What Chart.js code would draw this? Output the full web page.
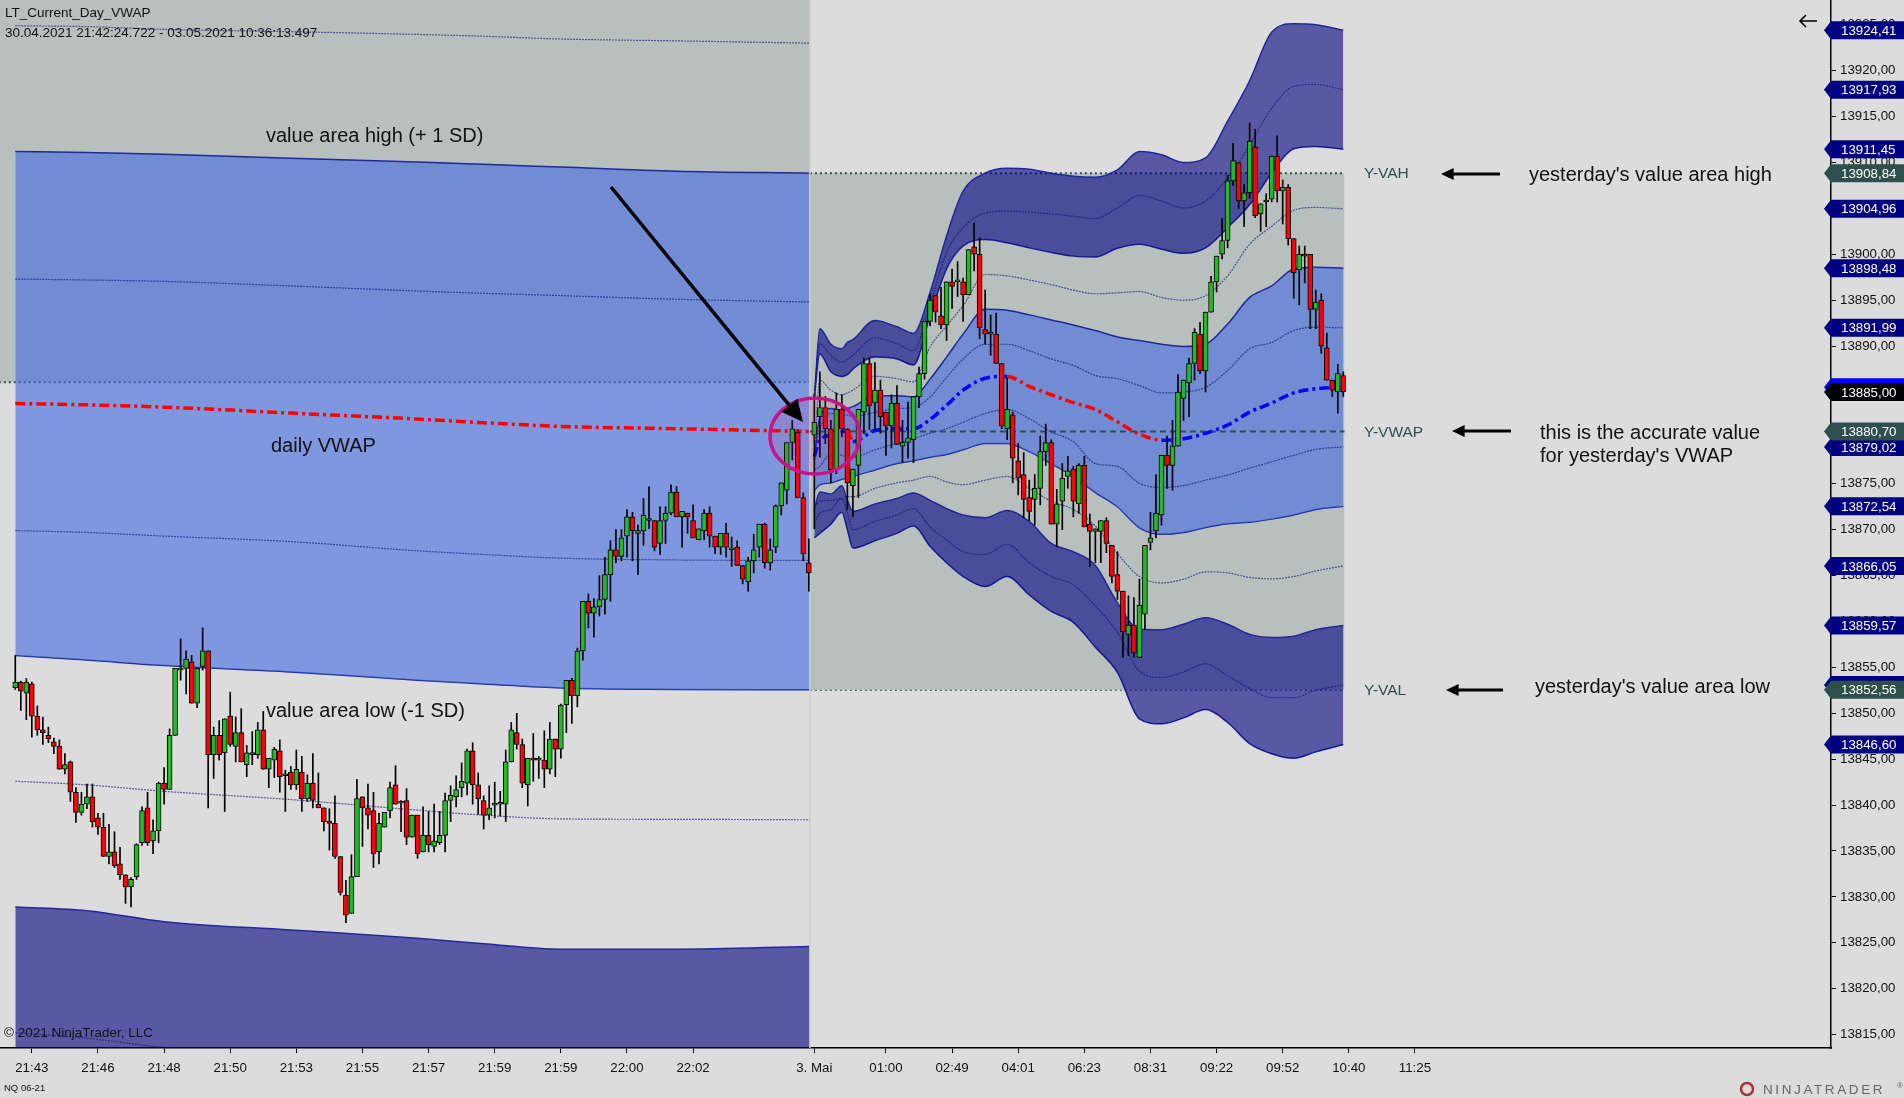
<!DOCTYPE html>
<html>
<head>
<meta charset="utf-8">
<title>LT_Current_Day_VWAP</title>
<script src="https://cdn.jsdelivr.net/npm/chart.js@4"></script>
<style>
	html, body { margin: 0; padding: 0; background: #dcdcdc; }
	canvas { display: block; }
</style>
</head>
<body>
<canvas id="chart" width="1904" height="1098"></canvas>
<script>
// candles, one entry per bar
const opens = [
13852.8,13853.4,13852.2,13853.2,13849.7,13848.2,13847.6,13846.9,13846.4,13843.9,
13844.7,13841.4,13839.2,13840.1,13840.9,13838.6,13837.6,13834.4,13834.9,13833.6,
13832.4,13831.1,13832.2,13835.9,13839.7,13836.1,13837.2,13842.4,13841.7,13847.6,
13854.7,13854.9,13855.6,13851.1,13855.1,13856.8,13845.5,13847.6,13845.7,13849.7,
13846.4,13847.9,13844.4,13845.7,13845.5,13848.2,13843.9,13844.9,13845.9,13843.2,
13843.6,13842.2,13843.6,13840.7,13842.4,13840.1,13839.7,13838.2,13838.0,13834.4,
13830.2,13828.2,13832.2,13840.9,13839.7,13839.4,13834.9,13837.6,13839.4,13842.2,
13840.2,13840.5,13836.5,13838.9,13834.9,13836.7,13835.5,13835.9,13836.7,13840.5,
13840.9,13841.9,13842.4,13845.9,13842.2,13840.5,13838.9,13840.0,13840.1,13840.1,
13844.7,13847.9,13846.6,13842.2,13845.1,13844.9,13844.9,13843.9,13847.2,13846.1,
13850.9,13853.6,13851.9,13856.8,13862.2,13860.9,13861.6,13862.4,13865.1,13867.8,
13867.1,13869.3,13871.4,13869.6,13869.9,13871.0,13871.0,13868.5,13871.0,13871.8,
13874.1,13871.4,13871.8,13871.0,13868.9,13869.9,13871.8,13869.3,13868.1,13869.6,
13867.8,13868.1,13866.1,13864.3,13866.6,13868.1,13870.6,13866.4,13868.1,13872.6,
13874.3,13879.5,13880.6,13873.5,13866.4,13880.3,13882.3,13883.3,13881.0,13876.5,
13883.1,13881.0,13874.8,13877.0,13882.8,13888.1,13883.8,13885.2,13882.8,13881.3,
13883.8,13879.1,13879.5,13879.8,13884.5,13887.0,13892.7,13895.5,13893.3,13892.3,
13897.0,13897.0,13897.0,13895.6,13900.8,13900.0,13891.8,13891.3,13891.3,13888.1,
13881.0,13882.5,13877.5,13876.0,13873.5,13873.3,13874.5,13878.5,13879.5,13870.6,
13873.1,13875.8,13876.6,13872.8,13877.0,13870.6,13869.8,13869.8,13871.0,13868.3,
13865.1,13863.3,13858.6,13859.6,13856.1,13860.8,13868.6,13869.9,13871.6,13878.1,
13877.0,13879.1,13884.3,13886.0,13888.1,13891.3,13887.3,13893.7,13897.0,13900.0,
13901.5,13908.0,13910.0,13905.8,13906.7,13911.7,13904.4,13905.7,13906.0,13910.7,
13906.9,13907.3,13901.7,13898.3,13900.0,13900.0,13894.0,13895.0,13889.8,13886.3,
13885.0,13886.8];
const highs = [
13856.3,13853.5,13853.8,13853.4,13850.8,13849.6,13848.5,13847.3,13847.1,13845.6,
13844.8,13841.9,13841.4,13842.3,13842.3,13839.1,13839.1,13837.9,13837.1,13835.4,
13832.4,13832.1,13835.8,13839.8,13841.4,13838.4,13842.5,13844.1,13848.3,13854.9,
13858.1,13856.8,13856.3,13854.9,13859.3,13856.8,13848.5,13849.2,13849.4,13852.3,
13849.6,13850.5,13846.5,13848.0,13849.0,13850.2,13845.1,13846.3,13847.1,13843.8,
13844.2,13846.0,13845.3,13843.3,13845.6,13843.5,13839.7,13839.6,13841.0,13834.4,
13831.8,13834.6,13842.8,13840.9,13842.3,13841.4,13839.1,13839.2,13842.5,13844.3,
13840.5,13841.8,13838.9,13838.9,13839.8,13839.3,13840.1,13839.3,13841.3,13842.1,
13843.2,13844.6,13846.1,13846.8,13843.5,13841.0,13842.1,13842.5,13841.5,13846.0,
13849.0,13850.0,13847.2,13845.1,13847.8,13845.3,13848.1,13849.0,13847.2,13851.0,
13853.6,13853.8,13857.1,13862.2,13863.0,13862.5,13865.0,13867.0,13868.8,13870.0,
13870.0,13872.2,13871.9,13870.5,13873.4,13874.7,13871.0,13872.5,13872.5,13874.9,
13874.7,13872.0,13871.8,13872.7,13870.1,13872.2,13872.5,13869.3,13869.6,13870.7,
13869.2,13868.8,13866.1,13867.0,13869.5,13870.6,13870.7,13869.0,13872.7,13875.1,
13879.5,13881.9,13880.9,13874.0,13869.0,13884.8,13887.2,13884.5,13881.9,13884.9,
13884.7,13881.0,13876.6,13883.1,13888.7,13888.7,13888.2,13886.3,13882.8,13884.7,
13885.7,13881.9,13883.9,13884.5,13887.7,13892.7,13895.7,13895.5,13896.4,13897.0,
13898.4,13899.2,13897.4,13900.5,13903.4,13901.8,13896.1,13893.4,13893.6,13888.1,
13886.5,13882.8,13879.4,13878.4,13875.4,13876.0,13880.2,13881.5,13879.8,13874.4,
13877.2,13878.0,13876.9,13877.2,13878.0,13871.7,13870.1,13871.0,13871.3,13868.3,
13867.6,13863.3,13862.8,13862.6,13864.6,13868.3,13871.9,13876.0,13878.1,13880.2,
13881.9,13886.9,13886.3,13888.7,13891.9,13892.6,13893.7,13897.6,13899.8,13903.9,
13908.6,13912.1,13910.0,13907.6,13914.3,13913.6,13905.5,13906.6,13910.7,13912.9,
13908.1,13907.6,13901.7,13900.9,13900.9,13900.0,13896.1,13895.7,13891.4,13886.3,
13888.0,13887.2];
const lows = [
13852.6,13850.3,13849.3,13847.4,13847.6,13846.6,13846.8,13845.6,13843.9,13843.4,
13840.4,13838.1,13838.9,13839.6,13837.6,13836.8,13834.4,13833.6,13833.2,13831.9,
13829.3,13828.9,13831.9,13835.6,13835.6,13834.7,13835.9,13840.1,13841.7,13847.6,
13853.6,13852.1,13851.1,13850.6,13854.7,13839.7,13842.9,13844.9,13839.3,13846.4,
13844.7,13844.7,13843.1,13844.4,13845.1,13843.9,13841.9,13843.0,13841.4,13839.3,
13841.7,13841.7,13839.3,13840.4,13839.7,13839.7,13837.2,13835.1,13834.2,13830.2,
13827.2,13828.2,13832.2,13835.5,13837.4,13833.2,13833.6,13837.6,13838.6,13840.1,
13837.1,13835.7,13836.5,13834.2,13834.9,13834.9,13834.9,13835.7,13834.9,13838.2,
13839.8,13840.9,13841.1,13840.1,13839.0,13837.4,13838.4,13838.6,13838.8,13838.2,
13844.7,13846.1,13841.9,13839.9,13842.6,13842.9,13841.9,13843.4,13843.1,13845.1,
13847.9,13848.9,13850.7,13855.8,13859.3,13858.3,13860.6,13860.8,13862.2,13866.4,
13866.6,13867.0,13866.6,13865.1,13868.3,13870.1,13867.7,13867.3,13868.5,13871.6,
13871.4,13868.1,13869.6,13869.1,13868.9,13868.9,13868.1,13867.4,13867.3,13867.0,
13866.0,13866.1,13864.1,13863.3,13865.3,13867.0,13865.8,13865.6,13867.5,13871.6,
13872.8,13877.6,13873.5,13866.6,13863.3,13870.1,13877.9,13879.4,13875.1,13876.1,
13880.1,13872.2,13871.4,13873.5,13880.5,13880.9,13880.9,13880.5,13878.1,13878.9,
13879.3,13877.3,13877.8,13877.3,13883.3,13886.4,13892.2,13892.6,13891.9,13890.6,
13894.1,13895.4,13892.7,13895.6,13898.2,13890.8,13890.2,13889.0,13888.1,13881.0,
13879.8,13875.1,13873.8,13871.3,13871.0,13870.5,13872.7,13877.0,13870.6,13868.1,
13870.0,13874.5,13871.4,13871.8,13870.3,13866.0,13866.4,13866.4,13867.5,13864.2,
13862.4,13856.1,13856.3,13856.1,13856.1,13859.1,13867.8,13869.1,13870.5,13874.5,
13874.3,13879.1,13881.9,13882.3,13886.3,13887.0,13885.0,13893.7,13895.9,13899.5,
13900.7,13907.5,13905.0,13903.0,13906.1,13904.0,13902.5,13903.0,13905.7,13905.7,
13903.3,13901.0,13895.2,13894.5,13896.9,13891.9,13891.9,13889.2,13886.3,13884.5,
13882.7,13884.5];
const closes = [
13853.4,13852.4,13853.4,13849.7,13848.2,13847.9,13847.2,13846.4,13843.9,13844.4,
13841.4,13839.2,13840.1,13840.9,13838.2,13837.6,13834.4,13834.9,13833.4,13832.4,
13831.1,13831.9,13835.7,13839.4,13835.9,13837.2,13842.4,13841.7,13847.6,13854.9,
13854.7,13855.9,13851.1,13854.9,13856.8,13845.5,13847.6,13845.5,13849.4,13846.6,
13847.9,13844.7,13845.7,13845.5,13848.2,13843.9,13845.1,13846.1,13843.1,13843.4,
13842.2,13843.9,13840.7,13842.4,13840.5,13839.7,13838.2,13838.0,13834.4,13830.5,
13828.0,13832.2,13840.7,13839.7,13838.9,13834.7,13838.0,13839.2,13841.9,13840.1,
13840.2,13836.5,13838.9,13834.7,13836.7,13835.7,13836.1,13836.7,13840.5,13841.1,
13841.7,13842.6,13845.9,13842.2,13840.7,13838.9,13839.7,13840.0,13840.1,13844.7,
13848.2,13846.6,13842.4,13845.1,13844.9,13844.9,13843.9,13847.2,13846.1,13850.9,
13853.6,13851.9,13856.8,13862.2,13860.9,13861.6,13862.4,13865.1,13867.8,13867.1,
13869.1,13871.4,13869.9,13869.9,13871.6,13871.0,13868.1,13871.0,13871.8,13874.1,
13871.4,13872.0,13871.4,13869.1,13870.1,13871.8,13869.3,13868.1,13869.6,13868.1,
13867.8,13866.1,13864.6,13866.6,13867.8,13870.6,13866.4,13867.8,13872.6,13875.1,
13879.5,13881.0,13873.5,13867.4,13865.3,13881.7,13883.3,13881.0,13876.5,13883.1,
13881.0,13875.1,13876.6,13883.1,13888.1,13883.5,13885.2,13882.3,13881.3,13883.8,
13879.3,13879.5,13880.0,13884.5,13887.0,13892.7,13895.0,13893.7,13892.3,13897.0,
13896.5,13897.0,13895.6,13900.5,13900.0,13892.0,13891.3,13891.3,13888.1,13881.3,
13883.1,13877.8,13875.6,13873.3,13872.0,13874.5,13878.5,13879.5,13870.6,13872.8,
13875.6,13876.4,13873.1,13877.0,13870.3,13869.8,13870.1,13871.0,13868.5,13864.9,
13863.3,13858.9,13859.6,13856.6,13861.8,13868.3,13869.1,13871.8,13878.1,13877.0,
13879.1,13885.0,13886.3,13888.1,13891.5,13887.3,13893.7,13897.0,13899.8,13901.5,
13908.0,13910.2,13905.8,13906.7,13912.3,13904.2,13905.5,13905.7,13910.7,13906.9,
13907.3,13901.7,13898.0,13900.0,13899.8,13894.0,13894.8,13890.0,13886.3,13885.2,
13887.0,13885.0];

// previous session bands (30.04), read at these bars
const leftBars = [0, 13, 27, 50, 73, 85, 99, 120, 144.2];
const leftPlus15 = [13924.9,13924.8,13924.5,13924.25,13923.95,13923.75,13923.45,13923.25,13923.0];
const leftPlus1 = [13911.2,13911.1,13910.9,13910.45,13910.05,13909.8,13909.5,13909.05,13908.84];
const leftPlus05 = [13897.3,13897.2,13897.05,13896.55,13896.0,13895.75,13895.5,13895.1,13894.8];
const leftVwap = [13883.75,13883.6,13883.35,13882.7,13882.05,13881.65,13881.25,13881.0,13880.7];
const leftMinus05 = [13869.9,13869.7,13869.3,13868.7,13867.7,13867.3,13866.9,13866.7,13866.65];
const leftMinus1 = [13856.3,13855.8,13855.2,13854.5,13853.6,13853.2,13852.75,13852.6,13852.56];
const leftMinus15 = [13842.6,13842.2,13841.5,13840.6,13839.45,13838.9,13838.5,13838.45,13838.4];
const leftMinus2 = [13828.9,13828.5,13827.3,13826.4,13825.5,13824.9,13824.3,13824.3,13824.6];
const leftMinus25 = [13815.2,13814.6,13813.6,13812.6,13811.4,13810.9,13810.2,13810.1,13810.4];

// current session bands (03.05), read at these bars
const rightBars = [145,146,148,150,151,152,156,160,163,166,169,172,176,180,184,188,192,196,200,204,208,212,216,220,224,228,232,236,241];
const rightA = [13884.1,13891.9,13890.2,13889.7,13890.4,13890.7,13892.8,13892.1,13891.4,13895.85,13902,13906.87,13908.83,13909.37,13909.26,13908.83,13908.5,13908.4,13909.2,13911.2,13910.85,13910.0,13910.5,13914.5,13918.9,13924.2,13925.1,13925.0,13924.41];
const rightB = [13885.2,13890.25,13889.0,13888.25,13888.5,13889.0,13890.9,13890.25,13889.5,13894.6,13900.2,13902.9,13904.5,13904.7,13904.6,13904.4,13904.15,13903.9,13905.05,13906.4,13905.8,13905.05,13905.8,13908.3,13911.9,13915.9,13918.3,13918.5,13917.93];
const rightC = [13884.45,13889.15,13887.2,13886.7,13886.9,13887.5,13888.8,13888.6,13887.95,13893.3,13898.4,13900.9,13901.6,13901.25,13900.7,13900.2,13899.8,13899.7,13900.65,13901.1,13900.55,13900.1,13900.7,13902.9,13905.4,13908.85,13911.5,13911.75,13911.45];
const rightD = [13877.95,13886.3,13885.2,13884.7,13884.9,13885.2,13886.7,13886.45,13886.1,13889.9,13892.2,13894.4,13897.8,13897.65,13897.2,13896.7,13896.1,13895.7,13895.8,13895.95,13895.3,13895.0,13895.5,13897.65,13901.1,13903.05,13904.8,13905.1,13904.96];
const rightE = [13877.6,13882.3,13883.2,13883.0,13883.2,13883.4,13884.6,13884.6,13884.45,13886.4,13888.8,13891.3,13894.0,13893.9,13893.4,13892.85,13892.3,13891.7,13891.0,13890.6,13890.2,13889.95,13890.2,13892.4,13895.3,13896.55,13898.4,13898.6,13898.48];
const rightF = [13878.7,13881.0,13882.65,13882.5,13882.5,13882.3,13882.8,13883.2,13883.3,13884.45,13886.6,13888.6,13890.2,13890.2,13889.5,13888.6,13887.9,13886.8,13886.45,13885.7,13884.9,13885.0,13885.5,13887.35,13889.7,13890.4,13891.7,13892.05,13891.99];
const rightVwap = [13877.95,13879.75,13880.3,13880.65,13880.8,13879.6,13880.8,13881.0,13881.0,13882.0,13883.55,13885.2,13886.5,13886.7,13885.6,13884.7,13883.85,13883.1,13881.75,13880.4,13879.75,13879.9,13880.5,13881.4,13882.8,13883.8,13884.9,13885.35,13885.51];
const rightH = [13876.5,13876.9,13878.3,13878.1,13877.9,13877.9,13878.7,13879.4,13879.9,13880.5,13881.0,13881.7,13882.65,13883.1,13882.1,13880.65,13879.6,13877.2,13876.9,13875.05,13874.6,13874.8,13875.4,13875.95,13876.7,13877.4,13878.1,13878.75,13879.02];
const rightI = [13874.3,13874.9,13875.1,13875.5,13875.6,13875.8,13876.5,13877.2,13877.5,13877.9,13878.2,13878.7,13879.4,13879.4,13878.5,13877.2,13875.8,13874.05,13872.5,13870.2,13869.5,13869.7,13870.25,13870.65,13870.8,13871.15,13871.6,13872.2,13872.54];
const rightJ = [13872.5,13873.1,13873.2,13873.4,13873.6,13873.6,13874.5,13875.1,13875.4,13875.8,13875.2,13874.9,13875.4,13875.8,13874.5,13873.1,13872.2,13870.4,13867.4,13864.9,13864.2,13864.6,13865.4,13865.3,13864.8,13864.65,13864.9,13865.5,13866.05];
const rightK = [13872.2,13874.1,13873.9,13874.8,13873.2,13872.0,13872.8,13873.4,13874.0,13873.2,13872.3,13871.6,13871.3,13872.1,13870.9,13868.5,13867.6,13866.1,13862.05,13859.15,13859.1,13859.7,13860.4,13859.7,13858.6,13858.25,13858.4,13859.1,13859.57];
const rightL = [13870.7,13871.8,13872.2,13873.4,13871.8,13870.0,13870.9,13871.6,13872.3,13870.3,13868.9,13867.6,13867.3,13868.4,13866.4,13864.9,13864.0,13861.7,13858.8,13854.6,13853.9,13854.5,13855.4,13854.1,13852.7,13851.7,13851.7,13852.5,13853.08];
const rightM = [13869.1,13869.6,13870.6,13871.9,13870.0,13868.0,13868.8,13869.6,13870.4,13868.2,13866.4,13864.9,13863.8,13864.9,13862.9,13861.1,13859.9,13857.2,13854.46,13849.4,13848.85,13849.5,13850.4,13849.0,13846.7,13845.6,13845.1,13845.8,13846.6];

// yesterday's levels
const yVah = 13908.84;
const yVwap = 13880.70;
const yVal = 13852.56;
const priorVal = 13886.05;
const sessionBar = 144.2;
const lastBar = 241.2;

// x axis
const tickBars = [3,15,27,39,51,63,75,87,99,111,123,145,158,170,182,194,206,218,230,242,254];
const tickLabels = ['21:43','21:46','21:48','21:50','21:53','21:55','21:57','21:59','21:59','22:00','22:02','3. Mai','01:00','02:49','04:01','06:23','08:31','09:22','09:52','10:40','11:25'];

// price markers on the right axis
const bandTags = [13924.41,13917.93,13911.45,13904.96,13898.48,13891.99,13879.02,13872.54,13866.05,13859.57,13853.08,13846.60];
const vwapTag = 13885.51;
const levelTags = [yVah, yVwap, yVal];
const lastPrice = closes[closes.length - 1];

const yMin = 13813.54;
const yMax = 13927.7;
const font = '"Liberation Sans", Arial, sans-serif';

const GREEN = '#22BB22';
const RED = '#FF0000';
const BAND_BLUE = 'rgba(65,105,225,0.6)';
const BAND_DARK = 'rgba(0,0,128,0.6)';
const GREY = '#B8C0BE';
const EDGE = '#20289A';
const LEVEL = '#2F4F4F';

const datasets = [];

function points(bars, values){
	return bars.map((b, i) => ({x: b, y: values[i]}));
}

function addLine(bars, values, opts){
	datasets.push(Object.assign({
		type: 'line',
		data: points(bars, values),
		pointRadius: 0,
		fill: false,
		cubicInterpolationMode: 'monotone',
		borderWidth: 1.5,
		borderColor: EDGE,
		order: 40
	}, opts));
	return datasets.length - 1;
}

function dotted(bars, values){
	addLine(bars, values, {borderWidth: 1.2, borderDash: [2, 1], borderColor: 'rgba(15,15,120,0.62)', order: 35});
}

// shaded yesterday areas sit below everything
addLine([-3, sessionBar], [priorVal, priorVal], {fill: 'end', backgroundColor: GREY, borderWidth: 2, borderColor: LEVEL, borderDash: [2, 3], order: 100});
const vahIdx = datasets.length;
addLine([sessionBar, lastBar], [yVah, yVah], {fill: {target: vahIdx + 1}, backgroundColor: GREY, borderWidth: 2, borderColor: LEVEL, borderDash: [2, 3], order: 100});
addLine([sessionBar, lastBar], [yVal, yVal], {borderWidth: 2, borderColor: LEVEL, borderDash: [2, 3], order: 100});

// left session
let idx = datasets.length;
addLine(leftBars, leftPlus1, {fill: {target: idx + 1}, backgroundColor: BAND_BLUE, order: 50});
addLine(leftBars, leftMinus1, {order: 50});
addLine(leftBars, leftMinus2, {fill: 'start', backgroundColor: BAND_DARK, order: 50});
dotted(leftBars, leftPlus15);
dotted(leftBars, leftPlus05);
dotted(leftBars, leftMinus05);
dotted(leftBars, leftMinus15);
dotted(leftBars, leftMinus25);

// right session
idx = datasets.length;
addLine(rightBars, rightA, {fill: {target: idx + 1}, backgroundColor: BAND_DARK, order: 50});
addLine(rightBars, rightC, {order: 50});
addLine(rightBars, rightE, {fill: {target: idx + 3}, backgroundColor: BAND_BLUE, order: 50});
addLine(rightBars, rightI, {order: 50});
addLine(rightBars, rightK, {fill: {target: idx + 5}, backgroundColor: BAND_DARK, order: 50});
addLine(rightBars, rightM, {order: 50});
dotted(rightBars, rightB);
dotted(rightBars, rightD);
dotted(rightBars, rightF);
dotted(rightBars, rightH);
dotted(rightBars, rightJ);
dotted(rightBars, rightL);

// yesterday vwap and session break
addLine([sessionBar, lastBar], [yVwap, yVwap], {borderWidth: 2, borderColor: LEVEL, borderDash: [6, 4], order: 30});
addLine([sessionBar, sessionBar], [yMin, yMax], {borderWidth: 1.5, borderColor: '#CFCFCF', order: 30});

// vwap, red when falling and blue when rising
const vwapSegment = {borderColor: c => c.p1.parsed.y >= c.p0.parsed.y ? '#0000FF' : '#FF0000'};
addLine(leftBars, leftVwap, {borderWidth: 3.5, borderColor: '#FF0000', borderDash: [10, 4, 3, 4], segment: vwapSegment, order: 20});
addLine(rightBars, rightVwap, {borderWidth: 3.5, borderColor: '#0000FF', borderDash: [10, 4, 3, 4], segment: vwapSegment, order: 20});

// candles
datasets.push({
	type: 'bar',
	data: opens.map((o, i) => ({x: i, y: [lows[i], highs[i]]})),
	backgroundColor: '#000',
	barThickness: 1,
	grouped: false,
	order: 10
});
datasets.push({
	type: 'bar',
	data: opens.map((o, i) => ({x: i, y: [o, closes[i]]})),
	backgroundColor: opens.map((o, i) => closes[i] >= o ? GREEN : RED),
	borderColor: '#000',
	borderWidth: 1,
	borderSkipped: false,
	barThickness: 5,
	minBarLength: 2,
	grouped: false,
	order: 5
});

function arrow(ctx, x0, y0, x1, y1, width, head){
	const a = Math.atan2(y1 - y0, x1 - x0);
	ctx.strokeStyle = '#000';
	ctx.fillStyle = '#000';
	ctx.lineWidth = width;
	ctx.beginPath();
	ctx.moveTo(x0, y0);
	ctx.lineTo(x1 - Math.cos(a) * head * 0.8, y1 - Math.sin(a) * head * 0.8);
	ctx.stroke();
	ctx.beginPath();
	ctx.moveTo(x1, y1);
	ctx.lineTo(x1 - Math.cos(a - 0.45) * head, y1 - Math.sin(a - 0.45) * head);
	ctx.lineTo(x1 - Math.cos(a + 0.45) * head, y1 - Math.sin(a + 0.45) * head);
	ctx.closePath();
	ctx.fill();
}

function tag(ctx, scale, value, color){
	const y = scale.getPixelForValue(value);
	ctx.fillStyle = color;
	ctx.beginPath();
	ctx.moveTo(1824, y);
	ctx.lineTo(1831, y - 9);
	ctx.lineTo(1904, y - 9);
	ctx.lineTo(1904, y + 9);
	ctx.lineTo(1831, y + 9);
	ctx.closePath();
	ctx.fill();
	ctx.fillStyle = '#FFF';
	ctx.font = '13.3px ' + font;
	ctx.textAlign = 'left';
	ctx.textBaseline = 'middle';
	ctx.fillText(value.toFixed(2).replace('.', ','), 1841, y + 1);
}

function text(ctx, str, x, y, size, color){
	ctx.fillStyle = color || '#111';
	ctx.font = size + 'px ' + font;
	ctx.textAlign = 'left';
	ctx.textBaseline = 'middle';
	ctx.fillText(str, x, y);
}

const decorations = {
	id: 'decorations',
	afterDraw(chart){
		const ctx = chart.ctx;
		const y = chart.scales.y;
		ctx.save();

		// circle round the open of the day
		ctx.beginPath();
		ctx.ellipse(815, 436, 45, 38, 0, 0, Math.PI * 2);
		ctx.fillStyle = 'rgba(199,21,133,0.12)';
		ctx.fill();
		ctx.lineWidth = 3.5;
		ctx.strokeStyle = '#C71585';
		ctx.stroke();

		arrow(ctx, 611, 187, 803, 422, 3.5, 24);
		arrow(ctx, 1500, 174, 1441, 174, 3, 14);
		arrow(ctx, 1511, 431, 1452, 431, 3, 14);
		arrow(ctx, 1503, 690, 1446, 690, 3, 14);

		// small back arrow, open head
		ctx.lineWidth = 1.6;
		ctx.strokeStyle = '#000';
		ctx.beginPath();
		ctx.moveTo(1817, 21);
		ctx.lineTo(1800, 21);
		ctx.moveTo(1806, 15);
		ctx.lineTo(1800, 21);
		ctx.lineTo(1806, 27);
		ctx.stroke();

		// notes on the chart
		text(ctx, 'value area high (+ 1 SD)', 266, 136, 20);
		text(ctx, 'daily VWAP', 271, 446, 20);
		text(ctx, 'value area low (-1 SD)', 266, 711, 20);
		text(ctx, "yesterday's value area high", 1529, 175, 20);
		text(ctx, 'this is the accurate value', 1540, 433, 20);
		text(ctx, "for yesterday's VWAP", 1540, 456, 20);
		text(ctx, "yesterday's value area low", 1535, 687, 20);
		text(ctx, 'Y-VAH', 1364, 174, 15.5, LEVEL);
		text(ctx, 'Y-VWAP', 1364, 433, 15.5, LEVEL);
		text(ctx, 'Y-VAL', 1364, 691, 15.5, LEVEL);

		// header and footer
		text(ctx, 'LT_Current_Day_VWAP', 5, 13, 13.5);
		text(ctx, '30.04.2021 21:42:24.722 - 03.05.2021 10:36:13.497', 5, 33, 13.5);
		text(ctx, '© 2021 NinjaTrader, LLC', 4, 1033, 13.5);
		text(ctx, 'NQ 06-21', 4, 1088, 9.5);

		// price markers
		bandTags.forEach(v => tag(ctx, y, v, '#000080'));
		tag(ctx, y, vwapTag, '#0000FF');
		levelTags.forEach(v => tag(ctx, y, v, LEVEL));
		tag(ctx, y, lastPrice, '#000');

		// logo
		ctx.beginPath();
		ctx.arc(1747, 1089, 6, 0, Math.PI * 2);
		ctx.lineWidth = 2.5;
		ctx.strokeStyle = '#A33';
		ctx.stroke();
		ctx.letterSpacing = '2.6px';
		text(ctx, 'NINJATRADER', 1763, 1090, 13.5, '#666');
		ctx.letterSpacing = '0px';
		text(ctx, '®', 1897, 1086, 8, '#666');

		ctx.restore();
	}
};

// the scales must not reserve room for half a label, the plot fills the window
function noPadding(axis){
	axis.paddingTop = 0;
	axis.paddingBottom = 0;
	axis.paddingLeft = 0;
	axis.paddingRight = 0;
}

new Chart(document.getElementById('chart'), {
	type: 'line',
	data: {datasets: datasets},
	plugins: [decorations],
	options: {
		responsive: false,
		animation: false,
		devicePixelRatio: 1,
		layout: {padding: 0},
		events: [],
		plugins: {legend: {display: false}, tooltip: {enabled: false}, title: {display: false}},
		scales: {
			x: {
				type: 'linear',
				offset: false,
				min: -2.776,
				max: 329.5,
				grid: {drawOnChartArea: false, offset: false, tickLength: 5, tickColor: '#000'},
				border: {color: '#000', width: 1.5},
				afterBuildTicks: axis => { axis.ticks = tickBars.map(b => ({value: b})); },
				afterFit: axis => { axis.height = 50; noPadding(axis); },
				ticks: {
					autoSkip: false,
					maxRotation: 0,
					padding: 7,
					color: '#111',
					font: {family: font, size: 13.3},
					callback: v => tickLabels[tickBars.indexOf(v)]
				}
			},
			y: {
				position: 'right',
				min: yMin,
				max: yMax,
				grid: {drawOnChartArea: false, tickLength: 5, tickColor: '#000'},
				border: {color: '#000', width: 1.5},
				afterFit: axis => { axis.width = 73; noPadding(axis); },
				ticks: {
					stepSize: 5,
					includeBounds: false,
					padding: 4,
					color: '#111',
					font: {family: font, size: 13.3},
					callback: v => v.toFixed(2).replace('.', ',')
				}
			}
		}
	}
});
</script>
</body>
</html>
